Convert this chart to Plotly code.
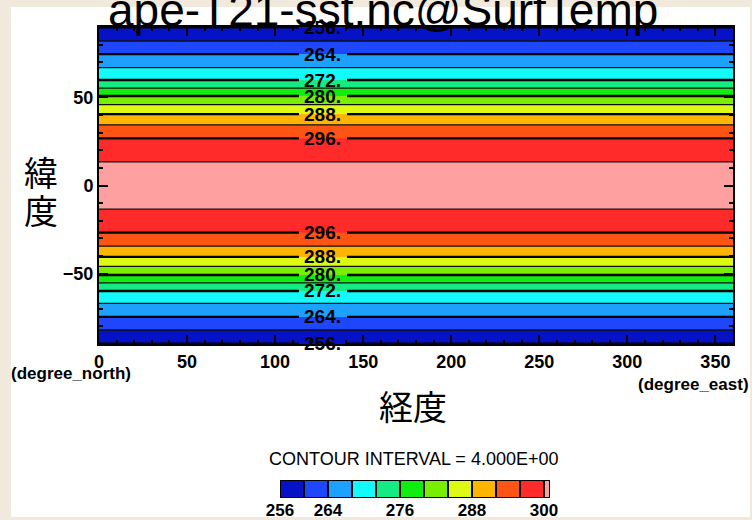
import numpy as np
import plotly.graph_objects as go

# ---------------- data ----------------
title_text = "ape-T21-sst.nc@SurfTemp"
x_title = "経度"
y_title_chars = ["緯", "度"]

# latitude grid and zonal-mean surface temperature profile (K)
lat = [-90, -85, -80, -75, -70, -65, -60, -55, -50, -45, -40, -35, -30, -25, -20, -15, -10, -5,
       0, 5, 10, 15, 20, 25, 30, 35, 40, 45, 50, 55, 60, 65, 70, 75, 80, 85, 90]
temp = [255.9, 258.4, 261.1, 263.8, 266.4, 269.0, 271.9, 276.3, 280.7, 284.7, 288.4, 291.7,
        294.4, 296.85, 298.4, 299.8, 300.45, 300.85,
        301.0,
        300.85, 300.45, 299.8, 298.4, 296.85, 294.4, 291.7, 288.4, 284.7, 280.7, 276.3, 271.9,
        269.0, 266.4, 263.8, 261.1, 258.4, 255.9]
lon_range = [0, 360]

fill_start, fill_end, fill_step = 260, 300, 4
thin_start, thin_end, thin_step = 260, 300, 8
label_levels = [256, 264, 272, 280, 288, 296]

band_colors = ["#0612c6", "#1e46fa", "#1ea0ff", "#12fafa", "#14eb82", "#10ee10",
               "#78ee00", "#dcfa14", "#ffb400", "#ff5514", "#ff2a2a", "#ffa0a0"]
cbar_bounds = [256, 260, 264, 268, 272, 276, 280, 284, 288, 292, 296, 300, 301]
cbar_ticks = [256, 264, 276, 288, 300]
interval_text = "CONTOUR INTERVAL = 4.000E+00"

# ---------------- layout helpers ----------------
W, H = 752, 520
def fx(p):
    return p / W
def fy(p):
    return 1 - p / H

label_lon = 127          # where contour labels sit
gap = (113.6, 140.8)     # break in labelled lines around the labels

z = [[t, t] for t in temp]
n = len(band_colors)
cscale = [[i / (n - 1), c] for i, c in enumerate(band_colors)]

fig = go.Figure()

# filled bands
fig.add_trace(go.Contour(
    x=lon_range, y=lat, z=z, autocontour=False,
    contours=dict(start=fill_start, end=fill_end, size=fill_step, coloring="fill", showlines=False),
    colorscale=cscale, showscale=False, hoverinfo="skip", line=dict(width=0)))

# thin (unlabelled) lines
fig.add_trace(go.Contour(
    x=lon_range, y=lat, z=z, autocontour=False,
    contours=dict(start=thin_start, end=thin_end, size=thin_step, coloring="none", showlines=True),
    line=dict(color="#111111", width=1.3), showscale=False, hoverinfo="skip"))

# thick labelled lines, broken where the labels are
for xs in ([lon_range[0], gap[0]], [gap[1], lon_range[1]]):
    fig.add_trace(go.Contour(
        x=xs, y=lat, z=z, autocontour=False,
        contours=dict(start=label_levels[0], end=label_levels[-1], size=8, coloring="none", showlines=True),
        line=dict(color="black", width=2.4), showscale=False, hoverinfo="skip"))

# labels at the crossing latitudes
lat_a = np.array(lat, dtype=float)
t_a = np.array(temp, dtype=float)
north = lat_a >= 0
south = lat_a <= 0
annotations = []
for lv in label_levels:
    yn = np.interp(lv, t_a[north][::-1], lat_a[north][::-1])
    ys = np.interp(lv, t_a[south], lat_a[south])
    for yv in (yn, ys):
        annotations.append(dict(x=label_lon, y=float(yv), xref="x", yref="y", text=f"{lv}.",
                                showarrow=False, xanchor="center", yanchor="middle",
                                font=dict(family="Liberation Sans", size=19,
                                          color="black", weight="bold")))

# colour bar drawn as bars
fig.add_trace(go.Bar(
    x=np.diff(cbar_bounds), base=cbar_bounds[:-1], y=[0] * (len(cbar_bounds) - 1),
    orientation="h", width=1, marker=dict(color=band_colors, line=dict(color="black", width=2)),
    xaxis="x2", yaxis="y2", cliponaxis=False, hoverinfo="skip"))

tickfont = dict(family="Liberation Sans", size=18, color="black", weight="bold")
axis_common = dict(showgrid=False, zeroline=False, showline=True, linecolor="black", linewidth=2,
                   mirror="ticks", ticks="inside", tickcolor="black", tickwidth=2, ticklen=9,
                   tickfont=tickfont, automargin=False)

def paper_text(x, y, text, size, family="Liberation Sans", weight="normal", xanchor="center"):
    return dict(x=fx(x), y=fy(y), xref="paper", yref="paper", text=text, showarrow=False,
                xanchor=xanchor, yanchor="middle",
                font=dict(family=family, size=size, color="black", weight=weight))

annotations += [
    paper_text(383, 10, title_text, 46),
    paper_text(41, 172, y_title_chars[0], 34, family="Noto Sans CJK JP"),
    paper_text(41, 209, y_title_chars[1], 34, family="Noto Sans CJK JP"),
    paper_text(413, 405, x_title, 34, family="Noto Sans CJK JP"),
    paper_text(9, 373, "(degree_north)", 17, weight="bold", xanchor="left"),
    paper_text(751, 384, "(degree_east)", 17, weight="bold", xanchor="right"),
    paper_text(414, 459, interval_text, 18),
]

fig.update_layout(
    width=W, height=H, margin=dict(l=0, r=0, t=0, b=0, pad=0, autoexpand=False),
    paper_bgcolor="#f1e9db", plot_bgcolor="white", showlegend=False, bargap=0,
    xaxis=dict(domain=[fx(99), fx(733)], range=lon_range, dtick=50, tick0=0,
               minor=dict(dtick=10, ticklen=4, ticks="inside", tickcolor="black", tickwidth=1.5),
               **axis_common),
    yaxis=dict(domain=[fy(344), fy(27)], range=[-90, 90], dtick=50, tick0=0,
               minor=dict(dtick=10, ticklen=4, ticks="inside", tickcolor="black", tickwidth=1.5),
               **axis_common),
    xaxis2=dict(domain=[fx(280), fx(550)], anchor="y2", range=[cbar_bounds[0], cbar_bounds[-1]],
                tickvals=cbar_ticks, ticks="", showline=False, showgrid=False, zeroline=False,
                automargin=False,
                tickfont=dict(family="Liberation Sans", size=17, color="black", weight="bold")),
    yaxis2=dict(domain=[fy(498), fy(480)], anchor="x2", range=[-0.5, 0.5], visible=False),
    shapes=[dict(type="rect", xref="paper", yref="paper", x0=fx(11), x1=fx(750), y0=fy(517), y1=fy(7),
                 fillcolor="white", line=dict(width=0), layer="below")],
    annotations=annotations,
)

fig.write_html("out.html", config={"displayModeBar": False},
               post_script="document.body.style.margin='0px';")
